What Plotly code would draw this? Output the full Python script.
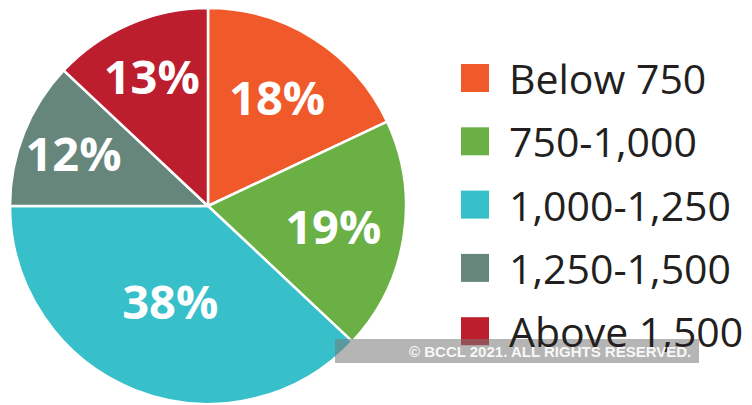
import plotly.graph_objects as go

labels = ["Below 750", "750-1,000", "1,000-1,250", "1,250-1,500", "Above 1,500"]
shares = [18, 19, 38, 12, 13]
colors = ["#f05a2a", "#6ab045", "#37c0c9", "#66867c", "#bd1e2e"]

W, H = 752, 405
cx, cy, r = 208, 206, 198

fig = go.Figure(go.Pie(
    labels=labels,
    values=shares,
    sort=False,
    direction="clockwise",
    rotation=0,
    marker=dict(colors=colors, line=dict(color="white", width=2.5)),
    texttemplate="%{value}%",
    textposition="inside",
    insidetextorientation="horizontal",
    textfont=dict(family="Open Sans", size=47, color="white", weight="bold"),
    hoverinfo="label+value",
    domain=dict(x=[(cx - r) / W, (cx + r) / W], y=[(H - cy - r) / H, (H - cy + r) / H]),
    showlegend=False,
))

# manual legend (large squares as in the original graphic)
legend_top = 78
legend_step = 63.3
for i, (lab, col) in enumerate(zip(labels, colors)):
    yc = legend_top + i * legend_step
    fig.add_shape(type="rect", xref="paper", yref="paper",
                  x0=461 / W, x1=489 / W, y0=(H - yc - 14) / H, y1=(H - yc + 14) / H,
                  fillcolor=col, line=dict(width=0), layer="above")
    fig.add_annotation(xref="paper", yref="paper", x=507 / W, y=(H - yc) / H,
                       text=lab, showarrow=False, xanchor="left", yanchor="middle",
                       font=dict(family="Open Sans", size=41, color="#231f20"))

# copyright band
fig.add_shape(type="rect", xref="paper", yref="paper",
              x0=335 / W, x1=699 / W, y0=(H - 363) / H, y1=(H - 339) / H,
              fillcolor="rgba(120,120,120,0.55)", line=dict(width=0), layer="above")
fig.add_annotation(xref="paper", yref="paper", x=693 / W, y=(H - 351) / H,
                   text="© BCCL 2021. ALL RIGHTS RESERVED.", showarrow=False,
                   xanchor="right", yanchor="middle", opacity=0.9,
                   font=dict(family="Liberation Sans", size=15, color="white", weight="bold"))

fig.update_layout(
    width=W, height=H,
    margin=dict(l=0, r=0, t=0, b=0),
    paper_bgcolor="white", plot_bgcolor="white",
    uniformtext=dict(minsize=47, mode="show"),
)

fig.write_html("out.html", config={"displayModeBar": False},
               post_script="document.body.style.margin='0';")
